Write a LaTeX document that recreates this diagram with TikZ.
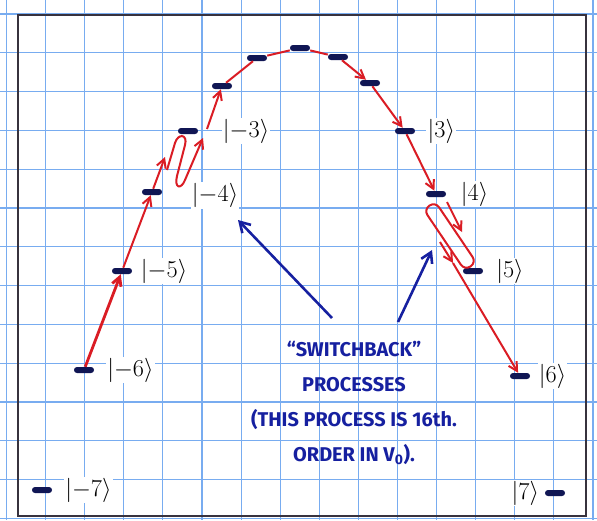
\documentclass[tikz,border=0pt]{standalone}
\usepackage{fontspec}
\usepackage{xcolor}
\usepackage{tikz}
\usetikzlibrary{arrows.meta,positioning}
\newfontfamily\handfont[Ligatures=TeX]{Fira Sans}
\definecolor{gridblue}{RGB}{120,172,240}
\definecolor{penred}{RGB}{218,28,36}
\definecolor{penblue}{RGB}{22,32,160}
\definecolor{dashblue}{RGB}{16,22,84}
\definecolor{framegray}{RGB}{55,50,62}

\begin{document}
\begin{tikzpicture}[
x=0.03cm, y=-0.03cm,
gridline/.style={draw=gridblue, line width=1pt},
frameline/.style={draw=framegray, line width=1.6pt},
lvl/.style={fill=dashblue, rounded corners=2.5pt, minimum width=0.6cm,
minimum height=0.18cm, inner sep=0pt},
ketlbl/.style={font=\fontsize{22}{26}\selectfont, fill=white, inner sep=1pt},
redline/.style={draw=penred, line width=1.7pt},
redarrow/.style={redline, -{Straight Barb[length=2.6mm, width=2.8mm]}},
bluearrow/.style={draw=penblue, line width=2.2pt, -{Straight Barb[length=3mm, width=3.6mm]}},
sbnote/.style={text=penblue, align=center, font=\handfont\bfseries\fontsize{17}{30}\selectfont}
]
\useasboundingbox (0,0) rectangle (597,520);
\fill[white] (0,0) rectangle (597,520);
\foreach \i in {0,...,15} \draw[gridline] (6.5+39.1*\i,0) -- (6.5+39.1*\i,520);
\foreach \j in {0,...,13} \draw[gridline] (0,14+38.8*\j) -- (597,14+38.8*\j);
\draw[frameline] (18,15) rectangle (586,516);

\node[lvl] (m7) at (42,490) {};
\node[lvl] (m6) at (84,370) {};
\node[lvl] (m5) at (122,271) {};
\node[lvl] (m4) at (152,192) {};
\node[lvl] (m3) at (188,131) {};
\node[lvl] (m2) at (222,86) {};
\node[lvl] (m1) at (257,58) {};
\node[lvl] (p0) at (300,48) {};
\node[lvl] (p1) at (338,57) {};
\node[lvl] (p2) at (370,83) {};
\node[lvl] (p3) at (405,131) {};
\node[lvl] (p4) at (436,194) {};
\node[lvl] (p5) at (473,271) {};
\node[lvl] (p6) at (520,376) {};
\node[lvl] (p7) at (555,493) {};

\node[ketlbl, right=3.5mm of m7] (k7) {$|{-7}\rangle$};
\node[ketlbl, right=3.5mm of m6] (k6) {$|{-6}\rangle$};
\node[ketlbl, right=2.2mm of m5] (k5) {$|{-5}\rangle$};
\node[ketlbl, right=8.5mm of m4, yshift=-1mm] (k4) {$|{-4}\rangle$};
\node[ketlbl, right=7mm of m3] (k3) {$|{-3}\rangle$};
\node[ketlbl, right=3.3mm of p3] (q3) {$|3\rangle$};
\node[ketlbl, right=4mm of p4] (q4) {$|4\rangle$};
\node[ketlbl, right=3.5mm of p5] (q5) {$|5\rangle$};
\node[ketlbl, right=2.2mm of p6] (q6) {$|6\rangle$};
\node[ketlbl, left=1.3mm of p7] (q7) {$|7\rangle$};

\coordinate (sba) at (165,157);
\coordinate (sbb) at (167,170);
\coordinate (sbc) at (203,138);
\coordinate (sbd) at (207,129);
\coordinate (sbe) at (447,202);
\coordinate (sbf) at (462,232);
\coordinate (sbg) at (440,242);
\coordinate (sbh) at (453,263);

\draw[redarrow, line width=2.4pt] (m6) -- (m5);
\draw[redarrow] (m5) -- (m4);
\draw[redarrow] (m4) -- (sba);
\draw[redarrow] (sbb) -- (175,143) .. controls (178,133) and (188,134) .. (185,145)
-- (177,176) .. controls (174,188) and (181,190) .. (185,180) -- (sbc);
\draw[redarrow] (sbd) -- (m2);
\draw[redline] (m2) -- (m1);
\draw[redline] (m1) -- (p0);
\draw[redline] (p0) -- (p1);
\draw[redarrow] (p1) -- (p2);
\draw[redarrow] (p2) -- (p3);
\draw[redarrow] (p3) -- (p4);
\draw[redarrow] (sbe) -- (sbf);
\draw[redline] (450,236) node[draw=penred, line width=1.7pt, rounded corners=0.2cm,
minimum width=2.2cm, minimum height=0.42cm, rotate=-56] (loop) {};
\draw[redarrow] (sbg) -- (sbh);
\draw[redarrow] (sbh) -- (p6);

\node[sbnote] (note) at (354,403) {“SWITCHBACK”\\PROCESSES\\(THIS PROCESS IS 16th.\\ORDER IN V\textsubscript{0}).};
\coordinate (tipa) at (238,220);
\coordinate (taila) at (332,318);
\coordinate (tipb) at (432,250);
\coordinate (tailb) at (398,322);
\draw[bluearrow] (taila) -- (tipa);
\draw[bluearrow] (tailb) -- (tipb);
\end{tikzpicture}
\end{document}
